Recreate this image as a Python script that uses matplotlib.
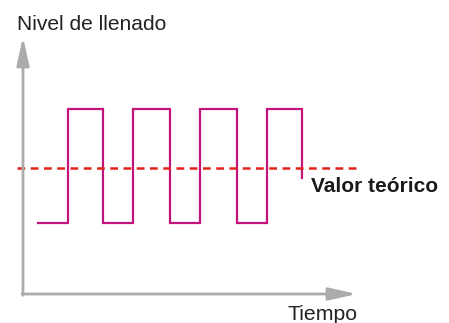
import matplotlib
matplotlib.use("Agg")
import matplotlib.pyplot as plt

# Data (arbitrary units: time 0-100, level 0-100)
wave_times = [4.5, 13.5, 24, 33, 44, 53, 64, 73, 83.5]
low_level = 27.8
high_level = 71.8
end_level = 45
theoretical_value = 49
y_label = "Nivel de llenado"
x_label = "Tiempo"
ref_label = "Valor teórico"

# Build the step path from the transition times
xs = [wave_times[0]]
ys = [low_level]
level = low_level
for t in wave_times[1:-1]:
    xs += [t, t]
    new = high_level if level == low_level else low_level
    ys += [level, new]
    level = new
xs += [wave_times[-1], wave_times[-1]]
ys += [level, end_level]

W, H = 449, 323
fig = plt.figure(figsize=(W / 100, H / 100), dpi=100)
left, right, top, bottom = 23, 357, 37, 294
ax = fig.add_axes([left / W, 1 - bottom / H, (right - left) / W, (bottom - top) / H])
ax.set_xlim(0, 100)
ax.set_ylim(0, 100)
ax.axis("off")

font = ["Liberation Sans", "DejaVu Sans"]
grey = "#ababab"
arrow = "-|>,head_length=1.7,head_width=0.38"

ax.annotate("", xy=(0, 100), xytext=(0, -0.5), xycoords="data",
            arrowprops=dict(arrowstyle=arrow, color=grey, lw=2, shrinkA=0, shrinkB=0),
            annotation_clip=False)
ax.annotate("", xy=(100, 0), xytext=(-0.3, 0), xycoords="data",
            arrowprops=dict(arrowstyle=arrow, color=grey, lw=2, shrinkA=0, shrinkB=0),
            annotation_clip=False)

ax.plot(xs, ys, color="#c2147a", lw=1.6, solid_joinstyle="miter", clip_on=False)
ax.plot([-1.8, 100], [theoretical_value, theoretical_value], color="#e2231a",
        lw=1.8, dashes=(3.1, 2.2), clip_on=False)

fig.text(17 / W, 1 - 24 / H, y_label, fontsize=15.1, family=font, color="#222222",
         ha="left", va="center")
fig.text(288 / W, 1 - 314 / H, x_label, fontsize=15.3, family=font, color="#222222",
         ha="left", va="center")
fig.text(311 / W, 1 - 186 / H, ref_label, fontsize=15, family=font, weight="bold",
         color="#1a1a1a", ha="left", va="center")

fig.savefig("out.png", dpi=100)
